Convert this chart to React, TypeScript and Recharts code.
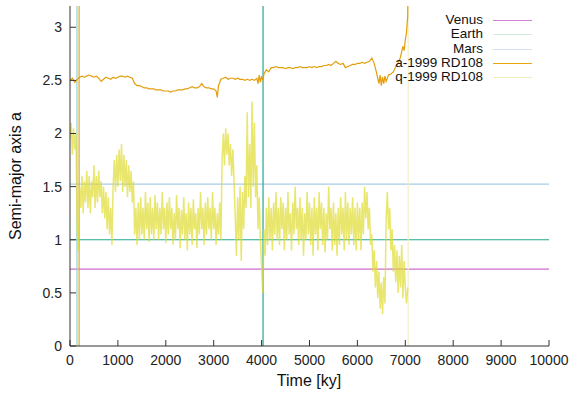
import { LineChart, Line, XAxis, YAxis, ReferenceLine } from "recharts";

// time [ky] -> semi-major axis a of 1999 RD108
const aTime = [
  0, 50, 100, 150, 200, 250, 300, 350, 400, 450, 500, 550, 600, 650, 700, 750, 800, 850, 900, 950,
  1000, 1050, 1100, 1150, 1200, 1250, 1300, 1350, 1400, 1450, 1500, 1550, 1600, 1650, 1700, 1750, 1800, 1850, 1900, 1950,
  2000, 2050, 2100, 2150, 2200, 2250, 2300, 2350, 2400, 2450, 2500, 2550, 2600, 2650, 2700, 2750, 2800, 2850, 2900, 2950,
  3000, 3050, 3075, 3100, 3150, 3200, 3250, 3300, 3350, 3400, 3450, 3500, 3550, 3600, 3650, 3700, 3750, 3800, 3850, 3900,
  3925, 3950, 3975, 4000, 4025, 4050, 4100, 4150, 4200, 4250, 4300, 4350, 4400, 4450, 4500, 4550, 4600, 4650, 4700, 4750,
  4800, 4850, 4900, 4950, 5000, 5050, 5100, 5150, 5200, 5250, 5300, 5350, 5400, 5450, 5500, 5550, 5600, 5650, 5700, 5750,
  5800, 5850, 5900, 5950, 6000, 6050, 6100, 6150, 6200, 6250, 6300, 6350, 6400, 6425, 6450, 6475, 6500, 6525, 6550, 6575,
  6600, 6650, 6700, 6750, 6800, 6850, 6900, 6950, 6975, 7000, 7025, 7050, 7060,
];
const aValues = [
  2.5, 2.52, 2.48, 2.51, 2.53, 2.54, 2.53, 2.54, 2.55, 2.54, 2.53, 2.54, 2.52, 2.49, 2.51, 2.53, 2.52, 2.51, 2.53, 2.52,
  2.53, 2.54, 2.54, 2.53, 2.54, 2.53, 2.52, 2.47, 2.45, 2.45, 2.44, 2.43, 2.43, 2.42, 2.42, 2.42, 2.41, 2.41, 2.41, 2.4,
  2.4, 2.4, 2.39, 2.4, 2.4, 2.41, 2.41, 2.41, 2.42, 2.42, 2.43, 2.44, 2.43, 2.43, 2.44, 2.47, 2.44, 2.43, 2.43, 2.42,
  2.42, 2.4, 2.34, 2.45, 2.51, 2.52, 2.53, 2.51, 2.52, 2.52, 2.51, 2.52, 2.51, 2.51, 2.5, 2.51, 2.5, 2.51, 2.5, 2.52,
  2.47, 2.55, 2.48, 2.54, 2.5, 2.56, 2.6, 2.58, 2.62, 2.62, 2.63, 2.62, 2.62, 2.62, 2.61, 2.62, 2.62, 2.61, 2.62, 2.62,
  2.63, 2.62, 2.62, 2.62, 2.63, 2.62, 2.63, 2.62, 2.63, 2.63, 2.64, 2.64, 2.65, 2.64, 2.66, 2.68, 2.66, 2.65, 2.66, 2.62,
  2.63, 2.64, 2.65, 2.65, 2.66, 2.66, 2.67, 2.66, 2.67, 2.68, 2.71, 2.66, 2.57, 2.52, 2.47, 2.55, 2.45, 2.53, 2.47, 2.54,
  2.49, 2.55, 2.56, 2.58, 2.63, 2.66, 2.72, 2.82, 2.78, 2.88, 2.95, 3.1, 3.6,
];

// perihelion q, every 25 ky from 0 to 7050
const qStep = 25;
const qValues = [
  1.95, 2.1, 1.8, 2.05, 1.85, 2.0, 1.1, 0.9, 1.5, 1.3, 1.6, 1.25, 1.55, 1.35, 1.65, 1.3, 1.6, 1.25, 1.55, 1.4,
  1.7, 1.3, 1.6, 1.35, 1.65, 1.4, 1.55, 1.25, 1.5, 1.2, 1.45, 1.1, 1.4, 1.05, 1.3, 0.95, 1.5, 1.75, 1.45, 1.8,
  1.5, 1.85, 1.55, 1.9, 1.45, 1.8, 1.5, 1.75, 1.4, 1.7, 1.45, 1.65, 1.35, 1.55, 1.05, 1.3, 0.95, 1.35, 1.0, 1.4,
  1.05, 1.3, 1.0, 1.45, 1.1, 1.35, 0.98, 1.4, 1.05, 1.3, 1.0, 1.42, 1.1, 1.35, 1.0, 1.3, 1.05, 1.45, 1.1, 1.3,
  0.97, 1.35, 1.05, 1.4, 1.1, 1.3, 0.95, 1.25, 1.0, 1.42, 1.1, 1.3, 0.92, 1.28, 1.05, 1.4, 1.0, 1.25, 0.9, 1.35,
  1.05, 1.3, 0.95, 1.38, 1.1, 1.25, 0.92, 1.3, 1.05, 1.45, 1.1, 1.3, 0.95, 1.35, 1.05, 1.4, 1.1, 1.3, 1.0, 1.45,
  1.1, 1.3, 0.95, 1.25, 1.05, 1.35, 1.0, 1.75, 2.0, 1.7, 2.05, 1.8, 2.0, 1.7, 1.9, 1.6, 1.85, 1.55, 1.2, 0.85,
  1.4, 1.0, 1.5, 0.8, 1.45, 1.1, 1.6, 1.3, 2.2, 1.4, 1.9, 1.3, 2.3, 1.5, 2.1, 1.4, 1.7, 1.1, 1.4, 1.0,
  0.75, 0.5, 1.1, 0.85, 1.3, 0.95, 1.4, 1.0, 1.3, 0.9, 1.35, 1.05, 1.45, 1.0, 1.3, 0.95, 1.4, 1.1, 1.35, 0.9,
  1.3, 1.0, 1.45, 1.05, 1.25, 0.9, 1.35, 1.05, 1.5, 1.1, 1.3, 0.95, 1.4, 1.0, 1.3, 0.85, 1.25, 1.0, 1.45, 1.05,
  1.35, 0.95, 1.3, 0.85, 1.4, 1.05, 1.3, 0.9, 1.45, 1.1, 1.35, 0.95, 1.3, 0.88, 1.25, 1.0, 1.5, 1.1, 1.3, 0.9,
  1.35, 0.95, 1.25, 0.85, 1.3, 0.95, 1.4, 1.05, 1.3, 0.9, 1.45, 1.0, 1.35, 0.95, 1.3, 1.05, 1.4, 0.95, 1.3, 0.9,
  1.35, 1.0, 1.3, 0.9, 1.35, 1.05, 1.5, 1.2, 1.45, 1.1, 1.3, 0.95, 1.05, 0.7, 0.9, 0.55, 0.8, 0.45, 0.7, 0.35,
  0.6, 0.3, 0.65, 0.4, 1.2, 1.45, 1.1, 1.3, 0.9, 1.1, 0.7, 0.95, 0.6, 0.9, 0.5, 0.85, 0.55, 0.95, 0.45, 0.8,
  0.55, 0.4, 0.55,
];

const planetNames = ["Venus", "Earth", "Mars"];
const planetA = [0.723, 1.0, 1.524];
const planetColors = ["#cc6fcc", "#23a78e", "#a9cbe6"];

// vertical jumps in the data (time, colour)
const jumpTimes = [145, 190, 4030, 7060];
const jumpColors = ["#8fd3de", "#e8a72a", "#23a78e", "#f3f0c8"];

const xTicks = [0, 1000, 2000, 3000, 4000, 5000, 6000, 7000, 8000, 9000, 10000];
const yTicks = [0, 0.5, 1, 1.5, 2, 2.5, 3];

const legendLabels = ["Venus", "Earth", "Mars", "a-1999 RD108", "q-1999 RD108"];
const legendColors = ["#d27fd6", "#d3ecd9", "#d3e2f2", "#e8a615", "#efedbf"];

const aData = aTime.map((t, i) => ({ t, v: aValues[i] }));
const qData = qValues.map((v, i) => ({ t: i * qStep, v }));

const font = "'Liberation Sans', Arial, sans-serif";
const axisColor = "#333";
const tickStyle = { fill: "#222", fontSize: 14, fontFamily: font };

export default function App() {
  return (
    <div style={{ position: "absolute", left: 0, top: 0, width: 573, height: 393, background: "#fff", fontFamily: font }}>
      <LineChart width={573} height={393} margin={{ top: 6, right: 24, bottom: 0, left: 0 }}>
        <XAxis
          xAxisId="b"
          type="number"
          dataKey="t"
          domain={[0, 10000]}
          ticks={xTicks}
          allowDataOverflow
          height={47}
          tickSize={-6}
          tickMargin={15}
          stroke={axisColor}
          tick={tickStyle}
        />
        <XAxis
          xAxisId="top"
          orientation="top"
          type="number"
          dataKey="t"
          domain={[0, 10000]}
          ticks={xTicks}
          allowDataOverflow
          height={0}
          tickSize={-6}
          tick={false}
          stroke={axisColor}
        />
        <YAxis
          yAxisId="l"
          type="number"
          domain={[0, 3.2]}
          ticks={yTicks}
          allowDataOverflow
          width={70}
          tickSize={-6}
          tickMargin={14}
          stroke={axisColor}
          tick={tickStyle}
        />
        <YAxis
          yAxisId="r"
          orientation="right"
          type="number"
          domain={[0, 3.2]}
          ticks={yTicks}
          allowDataOverflow
          width={0}
          tickSize={-6}
          tick={false}
          stroke={axisColor}
        />
        {planetA.map((a, i) => (
          <ReferenceLine key={planetNames[i]} xAxisId="b" yAxisId="l" y={a} stroke={planetColors[i]} strokeWidth={1.2} />
        ))}
        {jumpTimes.map((t, i) => (
          <ReferenceLine key={t} xAxisId="b" yAxisId="l" x={t} stroke={jumpColors[i]} strokeWidth={1.2} />
        ))}
        <Line
          xAxisId="b"
          yAxisId="l"
          data={aData}
          dataKey="v"
          type="linear"
          stroke="#e39e0c"
          strokeWidth={1.2}
          dot={false}
          isAnimationActive={false}
        />
        <Line
          xAxisId="b"
          yAxisId="l"
          data={qData}
          dataKey="v"
          type="linear"
          stroke="#e0dc30"
          strokeOpacity={0.7}
          strokeWidth={1.5}
          dot={false}
          isAnimationActive={false}
        />
      </LineChart>
      <div
        style={{
          position: "absolute",
          left: 16,
          top: 176,
          transform: "translate(-50%, -50%) rotate(-90deg)",
          whiteSpace: "nowrap",
          fontSize: 16,
          color: "#111",
        }}
      >
        Semi-major axis a
      </div>
      <div
        style={{
          position: "absolute",
          left: 309,
          top: 381,
          transform: "translate(-50%, -50%)",
          whiteSpace: "nowrap",
          fontSize: 16,
          color: "#111",
        }}
      >
        Time [ky]
      </div>
      {legendLabels.map((label, i) => (
        <div key={label}>
          <div
            style={{
              position: "absolute",
              right: 573 - 483,
              top: 20 + i * 14.3,
              transform: "translateY(-50%)",
              whiteSpace: "nowrap",
              fontSize: 13.5,
              lineHeight: "12px",
              color: "#111",
            }}
          >
            {label}
          </div>
          <div
            style={{
              position: "absolute",
              left: 493,
              width: 39,
              top: 20 + i * 14.3,
              height: 1.2,
              background: legendColors[i],
            }}
          />
        </div>
      ))}
    </div>
  );
}
